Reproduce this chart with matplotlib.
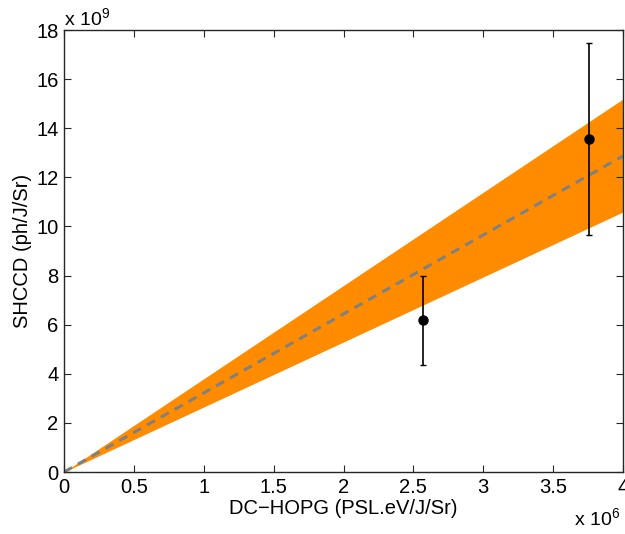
import numpy as np
import matplotlib
matplotlib.use("Agg")
import matplotlib.pyplot as plt

plt.rcParams['font.family'] = ['Liberation Sans', 'DejaVu Sans']
plt.rcParams['mathtext.fontset'] = 'custom'
plt.rcParams['mathtext.rm'] = 'Liberation Sans'
plt.rcParams['mathtext.it'] = 'Liberation Sans:italic'
plt.rcParams['mathtext.bf'] = 'Liberation Sans:bold'

# Calibration data (x in units of 1e6, y in units of 1e9)
x_pts = [2.57, 3.755]
y_pts = [6.19, 13.56]
y_err_low = [4.36, 9.65]
y_err_high = [7.98, 17.47]

# Fitted slope and its uncertainty band (y per unit x)
slope_fit = 12.87 / 4.0
slope_high = 15.19 / 4.0
slope_low = 10.59 / 4.0

x_ticks = [0, 0.5, 1, 1.5, 2, 2.5, 3, 3.5, 4]
x_tick_labels = ['0', '0.5', '1', '1.5', '2', '2.5', '3', '3.5', '4']
y_ticks = [0, 2, 4, 6, 8, 10, 12, 14, 16, 18]

fig = plt.figure(figsize=(6.25, 5.34), dpi=100)
ax = fig.add_axes([64 / 625, 1 - 472 / 534, 559 / 625, 442 / 534])

xx = np.array([0.0, 4.0])
ax.fill_between(xx, slope_low * xx, slope_high * xx, color='#ff8c00', linewidth=0, zorder=1)
ax.plot(xx, slope_fit * xx, linestyle=(0, (3, 2.2)), color='#808080', linewidth=2.2, zorder=2)

yerr = [np.array(y_pts) - np.array(y_err_low), np.array(y_err_high) - np.array(y_pts)]
ax.errorbar(x_pts, y_pts, yerr=yerr, fmt='o', color='black', markersize=6.5,
            ecolor='black', elinewidth=1.2, capsize=2.5, capthick=1.0, zorder=3)

ax.set_xlim(0, 4)
ax.set_ylim(0, 18)
ax.set_xticks(x_ticks)
ax.set_xticklabels(x_tick_labels)
ax.set_yticks(y_ticks)
ax.tick_params(direction='in', top=True, right=True, length=5, width=0.8,
               labelsize=14.5, colors='#262626', labelcolor='black')
ax.tick_params(axis='x', pad=4)
ax.tick_params(axis='y', pad=4)
for s in ax.spines.values():
    s.set_linewidth(1.0)
    s.set_color('#262626')

ax.set_xlabel('DC\u2212HOPG (PSL.eV/J/Sr)', fontsize=14.5, labelpad=2)
ax.set_ylabel('SHCCD (ph/J/Sr)', fontsize=14.5, labelpad=3)

fig.text(64 / 625, 1 - 25 / 534, r'x 10$^{9}$', fontsize=14, ha='left', va='baseline')
fig.text(620 / 625, 1 - 525 / 534, r'x 10$^{6}$', fontsize=14, ha='right', va='baseline')

fig.savefig('out.png', dpi=100)
